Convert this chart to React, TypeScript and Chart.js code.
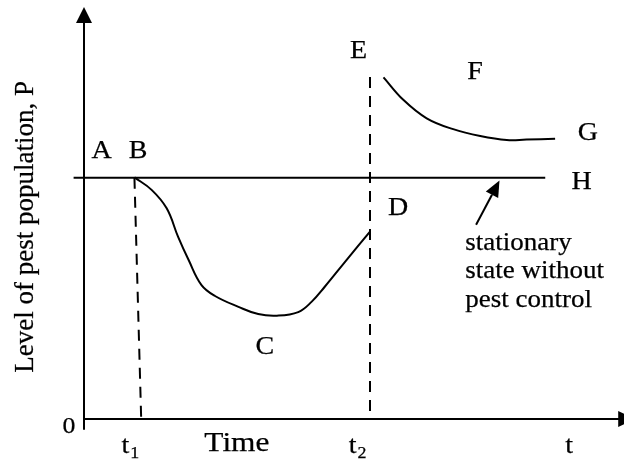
import React, { useEffect, useRef } from "react";
import { Chart, registerables } from "chart.js";

Chart.register(...registerables);

// ---- data (arbitrary units: time on x, pest level on y) ----
const steadyLevel = 6.0;
const steadyStart = -0.2;
const steadyEnd = 8.87;

const controlTime = [0.97, 1.3, 1.59, 1.81, 2.01, 2.26, 2.52, 2.97, 3.35, 3.71, 4.12, 4.38, 4.63, 5.02, 5.5];
const controlLevel = [6.01, 5.7, 5.24, 4.53, 3.96, 3.33, 3.06, 2.79, 2.61, 2.57, 2.66, 2.92, 3.29, 3.91, 4.66];

const reboundTime = [5.76, 6.14, 6.59, 7.1, 7.62, 8.13, 8.51, 9.06];
const reboundLevel = [8.5, 7.94, 7.48, 7.21, 7.04, 6.94, 6.95, 6.97];

const t1Top = 0.97;
const t1Bottom = 1.1;
const t2 = 5.5;
const t2Top = 8.51;

const pointLetters = ["A", "B", "C", "D", "E", "F", "G", "H"];
const noteLines = ["stationary", "state without", "pest control"];
const yTitle = "Level of pest population, P";
const xTitle = "Time";

const FONT = '"Liberation Serif", "Times New Roman", serif';
const SX = 1.12;
const TEXT_STROKE = 0.25;

// label anchor positions in data units
const letterPos: Record<string, [number, number]> = {
  A: [0.34, 6.49],
  B: [1.04, 6.49],
  C: [3.48, 1.62],
  D: [6.04, 5.07],
  E: [5.28, 8.97],
  F: [7.52, 8.45],
  G: [9.69, 6.94],
  H: [9.57, 5.71],
};

function toPts(xs: number[], ys: number[]) {
  return xs.map((x, i) => ({ x, y: ys[i] }));
}

function drawText(
  ctx: CanvasRenderingContext2D,
  s: string,
  x: number,
  y: number,
  size: number,
  align: CanvasTextAlign = "center",
  sx: number = SX
) {
  ctx.save();
  ctx.font = `${size}px ${FONT}`;
  ctx.translate(x, y);
  ctx.scale(sx, 1);
  ctx.textAlign = align;
  ctx.textBaseline = "alphabetic";
  ctx.fillStyle = "#000";
  ctx.strokeStyle = "#000";
  ctx.lineWidth = TEXT_STROKE;
  ctx.setLineDash([]);
  ctx.fillText(s, 0, 0);
  ctx.strokeText(s, 0, 0);
  ctx.restore();
}

function drawSub(ctx: CanvasRenderingContext2D, main: string, sub: string, cx: number, y: number) {
  ctx.save();
  ctx.font = `25px ${FONT}`;
  const w1 = ctx.measureText(main).width * SX;
  ctx.font = `16px ${FONT}`;
  const w2 = ctx.measureText(sub).width * SX;
  ctx.restore();
  const left = cx - (w1 + w2) / 2;
  drawText(ctx, main, left, y, 25, "left");
  drawText(ctx, sub, left + w1 + 1, y + 5, 16, "left");
}

const annotations = {
  id: "annotations",
  afterDatasetsDraw(chart: any) {
    const ctx: CanvasRenderingContext2D = chart.ctx;
    const xs = chart.scales.x;
    const ys = chart.scales.y;
    const px = (v: number) => xs.getPixelForValue(v);
    const py = (v: number) => ys.getPixelForValue(v);
    ctx.save();
    ctx.setLineDash([]);
    ctx.strokeStyle = "#000";
    ctx.fillStyle = "#000";
    ctx.lineWidth = 2;
    // axes
    const ox = px(0);
    const oy = py(0);
    const yTop = py(10.25);
    const xEnd = px(10.6);
    ctx.beginPath();
    ctx.moveTo(ox, py(-0.27));
    ctx.lineTo(ox, yTop + 14);
    ctx.moveTo(ox, oy);
    ctx.lineTo(xEnd - 14, oy);
    ctx.stroke();
    ctx.beginPath();
    ctx.moveTo(ox, yTop);
    ctx.lineTo(ox - 8, yTop + 16);
    ctx.lineTo(ox + 8, yTop + 16);
    ctx.closePath();
    ctx.fill();
    ctx.beginPath();
    ctx.moveTo(xEnd, oy);
    ctx.lineTo(xEnd - 17, oy - 8);
    ctx.lineTo(xEnd - 17, oy + 8);
    ctx.closePath();
    ctx.fill();

    // pointer arrow
    const ax0 = px(7.54), ay0 = py(4.83);
    const ax1 = px(7.99), ay1 = py(5.93);
    const ang = Math.atan2(ay1 - ay0, ax1 - ax0);
    const hl = 16, hw = 7;
    const bx = ax1 - hl * Math.cos(ang), by = ay1 - hl * Math.sin(ang);
    ctx.beginPath();
    ctx.moveTo(ax0, ay0);
    ctx.lineTo(bx, by);
    ctx.stroke();
    ctx.beginPath();
    ctx.moveTo(ax1, ay1);
    ctx.lineTo(bx + hw * Math.sin(ang), by - hw * Math.cos(ang));
    ctx.lineTo(bx - hw * Math.sin(ang), by + hw * Math.cos(ang));
    ctx.closePath();
    ctx.fill();

    // letters
    pointLetters.forEach((L) => {
      const [lx, ly] = letterPos[L];
      drawText(ctx, L, px(lx), py(ly), 25);
    });
    // note
    const noteY = [4.2, 3.5, 2.79];
    noteLines.forEach((s, i) => drawText(ctx, s, px(7.33), py(noteY[i]), 25, "left", 1.08));

    // axis texts
    drawText(ctx, "0", px(-0.29), py(-0.35), 23);
    drawSub(ctx, "t", "1", px(0.88), py(-0.85));
    drawSub(ctx, "t", "2", px(5.25), py(-0.85));
    drawText(ctx, "t", px(9.33), py(-0.85), 25);
    drawText(ctx, xTitle, px(2.94), py(-0.8), 28);

    // y title
    ctx.save();
    ctx.translate(px(-0.98), py(4.78));
    ctx.rotate(-Math.PI / 2);
    ctx.font = `27px ${FONT}`;
    ctx.textAlign = "center";
    ctx.textBaseline = "alphabetic";
    ctx.lineWidth = TEXT_STROKE;
    ctx.fillText(yTitle, 0, 0);
    ctx.strokeText(yTitle, 0, 0);
    ctx.restore();
    ctx.restore();
  },
};

export default function App() {
  const ref = useRef<HTMLCanvasElement | null>(null);
  useEffect(() => {
    if (!ref.current) return;
    const line = (data: any[], extra: any = {}) => ({
      data,
      showLine: true,
      borderColor: "#000",
      borderWidth: 2,
      clip: false as any,
      ...extra,
    });
    const chart = new Chart(ref.current, {
      type: "scatter",
      data: {
        datasets: [
          line([
            { x: steadyStart, y: steadyLevel },
            { x: steadyEnd, y: steadyLevel },
          ]),
          line(toPts(controlTime, controlLevel), { tension: 0.4 }),
          line(toPts(reboundTime, reboundLevel), { tension: 0.4 }),
          line(
            [
              { x: t1Top, y: steadyLevel },
              { x: t1Bottom, y: 0 },
            ],
            { borderDash: [11, 8] }
          ),
          line(
            [
              { x: t2, y: t2Top },
              { x: t2, y: 0 },
            ],
            { borderDash: [11, 8] }
          ),
        ] as any,
      },
      options: {
        animation: false,
        responsive: false,
        devicePixelRatio: 1,
        layout: { padding: { left: 84, right: 20, top: 17, bottom: 40 } },
        plugins: { legend: { display: false }, tooltip: { enabled: false } },
        elements: { point: { radius: 0, hoverRadius: 0 } },
        scales: {
          x: { type: "linear", min: 0, max: 10, display: false },
          y: { type: "linear", min: 0, max: 10, display: false },
        },
        events: [],
      },
      plugins: [annotations],
    });
    return () => chart.destroy();
  }, []);
  return (
    <div style={{ position: "fixed", left: 0, top: 0, width: 624, height: 459, background: "#fff" }}>
      <canvas ref={ref} width={624} height={459} style={{ display: "block" }} />
    </div>
  );
}
